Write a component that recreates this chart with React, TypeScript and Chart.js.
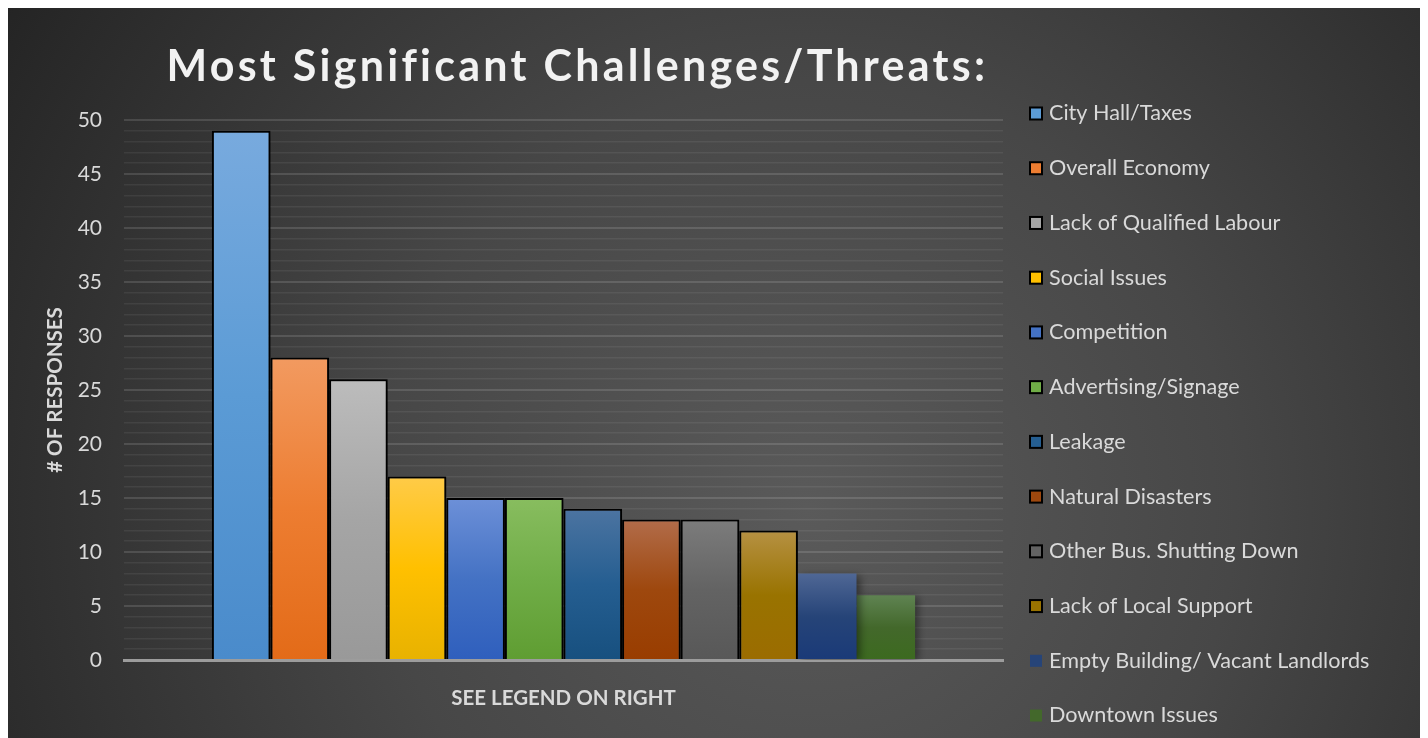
import React, { useEffect, useRef } from 'react';
import { Chart, registerables } from 'chart.js';

Chart.register(...registerables);

const categories = [''];
const seriesLabels = [
  'City Hall/Taxes',
  'Overall Economy',
  'Lack of Qualified Labour',
  'Social Issues',
  'Competition',
  'Advertising/Signage',
  'Leakage',
  'Natural Disasters',
  'Other Bus. Shutting Down',
  'Lack of Local Support',
  'Empty Building/ Vacant Landlords',
  'Downtown Issues',
];
const seriesValues = [49, 28, 26, 17, 15, 15, 14, 13, 13, 12, 8, 6];
const baseColors = ['#5b9bd5', '#ed7d31', '#a5a5a5', '#ffc000', '#4472c4', '#70ad47', '#255e91', '#9e480e', '#636363', '#997300', '#264478', '#43682b'];
const topColors = ['#78aade', '#f29a60', '#bcbcbc', '#ffcb48', '#6d90d8', '#88bd5f', '#4c74a1', '#b26c4a', '#7c7c7c', '#b69143', '#4f6795', '#5f8352'];
const bottomColors = ['#4a8bcb', '#e36b18', '#999999', '#e8b200', '#2f5fbd', '#5f9d32', '#17507f', '#993d00', '#585858', '#9b6c00', '#1a3a78', '#3c6a1f'];
const hasBorder = [true, true, true, true, true, true, true, true, true, true, false, false];
const yMin = 0;
const yMax = 50;
const yMajorStep = 5;
const yMinorStep = 1;
const titleText = 'Most Significant Challenges/Threats:';
const yAxisTitle = '# OF RESPONSES';
const xAxisTitle = 'SEE LEGEND ON RIGHT';

const FONT = 'Lato, "Open Sans", sans-serif';

export default function App() {
  const ref = useRef<HTMLCanvasElement | null>(null);

  useEffect(() => {
    if (!ref.current) return;

    const bgPlugin = {
      id: 'bg',
      beforeDraw(chart: any) {
        const { ctx, width, height } = chart;
        ctx.save();
        const g = ctx.createRadialGradient(800, 500, 0, 800, 500, 950);
        g.addColorStop(0, '#5a5a5a');
        g.addColorStop(0.45, '#474747');
        g.addColorStop(1, '#242424');
        ctx.fillStyle = g;
        ctx.fillRect(0, 0, width, height);
        ctx.restore();
      },
    };

    const shadowPlugin = {
      id: 'barShadow',
      beforeDatasetsDraw(chart: any) {
        const ctx = chart.ctx;
        ctx.save();
        ctx.shadowColor = 'rgba(0,0,0,0.45)';
        ctx.shadowBlur = 8;
        ctx.shadowOffsetX = 3;
        ctx.shadowOffsetY = 2;
      },
      afterDatasetsDraw(chart: any) {
        chart.ctx.restore();
      },
    };

    const titlePlugin = {
      id: 'customTitle',
      afterDraw(chart: any) {
        const ctx = chart.ctx;
        ctx.save();
        ctx.font = `bold 43px ${FONT}`;
        (ctx as any).letterSpacing = '0px';
        const w = ctx.measureText(titleText).width;
        const target = 818;
        const s = (target - w) / (titleText.length - 1);
        (ctx as any).letterSpacing = `${s}px`;
        ctx.fillStyle = '#f2f2f2';
        ctx.textAlign = 'left';
        ctx.textBaseline = 'alphabetic';
        const cx = (chart.chartArea.left + chart.chartArea.right) / 2 + 12;
        ctx.fillText(titleText, cx - target / 2, 73);
        ctx.restore();
      },
    };

    const legendPlugin = {
      id: 'customLegend',
      afterDraw(chart: any) {
        const ctx = chart.ctx;
        ctx.save();
        ctx.font = `21.6px ${FONT}`;
        ctx.textBaseline = 'middle';
        ctx.textAlign = 'left';
        const x0 = chart.chartArea.right + 27;
        const y0 = chart.chartArea.top - 6.5;
        const step = 54.73;
        chart.data.datasets.forEach((ds: any, i: number) => {
          const y = y0 + i * step;
          ctx.fillStyle = baseColors[i];
          ctx.fillRect(x0, y - 6, 12, 12);
          if (hasBorder[i]) {
            ctx.strokeStyle = '#000';
            ctx.lineWidth = 2;
            ctx.strokeRect(x0, y - 6, 12, 12);
          }
          ctx.fillStyle = '#d9d9d9';
          ctx.fillText(ds.label, x0 + 19, y);
        });
        ctx.restore();
      },
    };

    const datasets = seriesLabels.map((label, i) => ({
      label,
      data: [seriesValues[i]],
      borderColor: '#000000',
      borderWidth: hasBorder[i] ? 2 : 0,
      backgroundColor: (c: any) => {
        const chart = c.chart;
        const ys = chart.scales?.y;
        if (!ys || !chart.chartArea) return baseColors[i];
        const v = typeof c.raw === 'number' ? c.raw : seriesValues[i];
        const top = ys.getPixelForValue(v);
        const bottom = ys.getPixelForValue(0);
        if (!isFinite(top) || !isFinite(bottom) || top === bottom) return baseColors[i];
        const g = chart.ctx.createLinearGradient(0, top, 0, bottom);
        g.addColorStop(0, topColors[i]);
        g.addColorStop(0.5, baseColors[i]);
        g.addColorStop(1, bottomColors[i]);
        return g;
      },
      categoryPercentage: 0.8,
      barPercentage: 1.0,
    }));

    const chart = new Chart(ref.current, {
      type: 'bar',
      data: { labels: categories, datasets },
      options: {
        responsive: false,
        animation: false,
        layout: { padding: { top: 112, right: 417, bottom: 0, left: 0 } },
        plugins: {
          legend: { display: false },
          title: { display: false },
          tooltip: { enabled: false },
        },
        scales: {
          x: {
            grid: { display: false },
            border: { display: true, color: '#9c9c9c', width: 3 },
            ticks: { display: false },
            title: {
              display: true,
              text: xAxisTitle,
              color: '#d9d9d9',
              font: { family: FONT, size: 20.5, weight: 'bold' },
              padding: { top: 0, bottom: 27 },
            },
            afterFit: (scale: any) => {
              scale.height = 78;
            },
          },
          y: {
            min: yMin,
            max: yMax,
            border: { display: false },
            grid: {
              drawTicks: false,
              color: (c: any) => (c.tick && c.tick.value % yMajorStep === 0 ? 'rgba(255,255,255,0.13)' : 'rgba(255,255,255,0.065)'),
              lineWidth: (c: any) => (c.tick && c.tick.value % yMajorStep === 0 ? 2 : 1.5),
            },
            ticks: {
              stepSize: yMinorStep,
              autoSkip: false,
              padding: 22,
              color: '#d9d9d9',
              font: { family: FONT, size: 21 },
              callback: (v: any) => (Number(v) % yMajorStep === 0 ? String(v) : ''),
            },
            title: {
              display: true,
              text: yAxisTitle,
              color: '#d9d9d9',
              font: { family: FONT, size: 20.5, weight: 'bold' },
              padding: { top: 35, bottom: 0 },
            },
            afterFit: (scale: any) => {
              scale.width = 116;
            },
          },
        },
      },
      plugins: [bgPlugin, shadowPlugin, titlePlugin, legendPlugin],
    });

    return () => chart.destroy();
  }, []);

  return (
    <canvas ref={ref} width={1412} height={730} style={{ display: 'block', width: 1412, height: 730 }} />
  );
}
